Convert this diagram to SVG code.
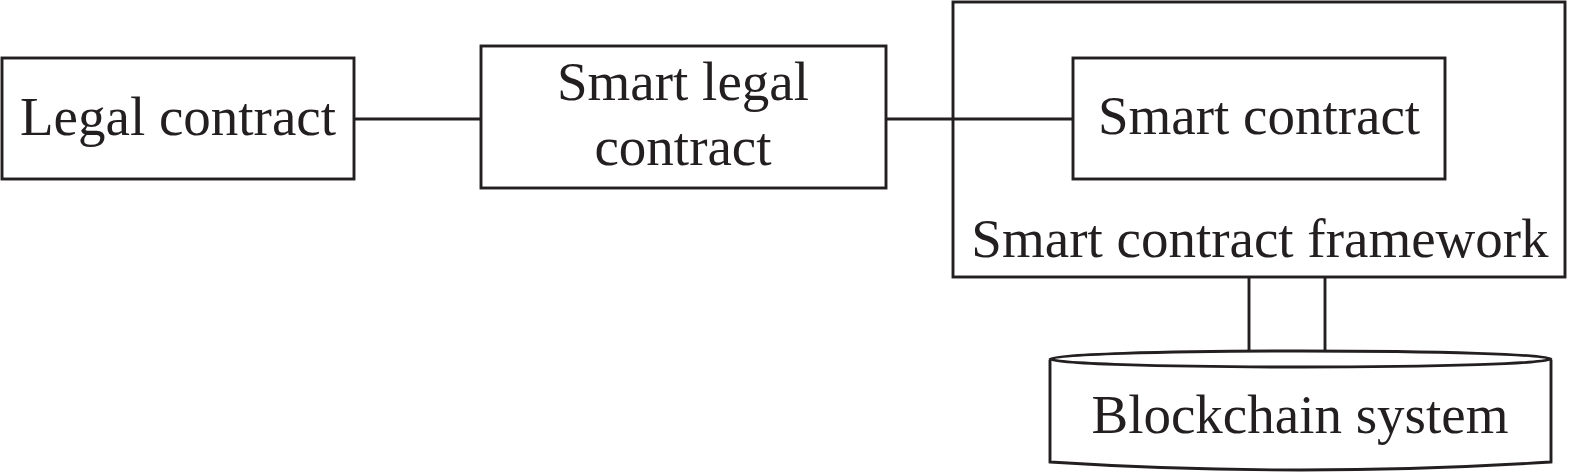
<svg xmlns="http://www.w3.org/2000/svg" width="1574" height="473" viewBox="0 0 1574 473">
<style>
.box{fill:#fff;stroke:#231f20;stroke-width:2.9}
.ln{fill:none;stroke:#231f20;stroke-width:2.9}
text{font-family:"Liberation Serif","Times New Roman",serif;font-size:55px;fill:#231f20;text-anchor:middle}
</style>
<rect width="1574" height="473" fill="#fff"/>
<g id="framework">
<rect class="box" x="953" y="2" width="612" height="275"/>
<text x="1260" y="257">Smart contract framework</text>
</g>
<g id="connectors">
<line class="ln" x1="354" y1="119" x2="481" y2="119"/>
<line class="ln" x1="886" y1="119" x2="1073" y2="119"/>
<line class="ln" x1="1249" y1="277" x2="1249" y2="350"/>
<line class="ln" x1="1325" y1="277" x2="1325" y2="350"/>
</g>
<g id="legal">
<rect class="box" x="2" y="58" width="352" height="121"/>
<text x="178" y="135">Legal contract</text>
</g>
<g id="smartlegal">
<rect class="box" x="481" y="46" width="405" height="142"/>
<text x="683" y="100">Smart legal</text>
<text x="683" y="165">contract</text>
</g>
<g id="smart">
<rect class="box" x="1073" y="58" width="372" height="121"/>
<text x="1259" y="134">Smart contract</text>
</g>
<g id="blockchain">
<path class="box" d="M1050,360 L1050,462 Q1300,478 1551,462 L1551,360"/>
<ellipse class="box" cx="1300.5" cy="359" rx="250.5" ry="8"/>
<text x="1300" y="433">Blockchain system</text>
</g>
</svg>
